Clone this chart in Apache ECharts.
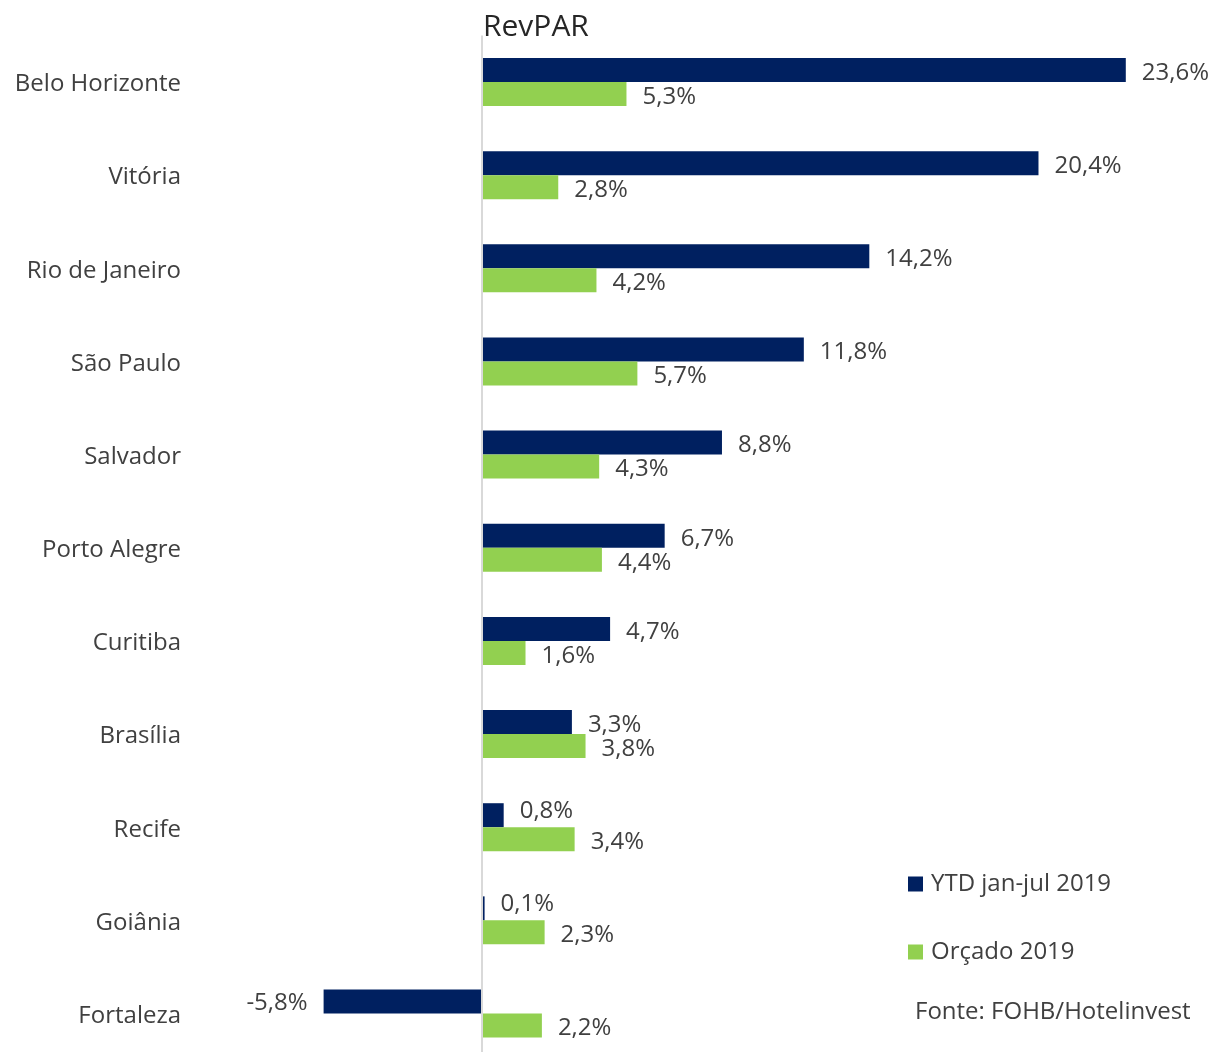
<!DOCTYPE html>
<html>
<head>
<meta charset="utf-8">
<script src="https://cdn.jsdelivr.net/npm/echarts@6/dist/echarts.min.js"></script>
<style>
  html, body { margin: 0; padding: 0; background: #fff; }
  #chart { width: 1214px; height: 1052px; }
</style>
</head>
<body>
<div id="chart"></div>
<script>
const cities = ['Belo Horizonte', 'Vitória', 'Rio de Janeiro', 'São Paulo', 'Salvador',
  'Porto Alegre', 'Curitiba', 'Brasília', 'Recife', 'Goiânia', 'Fortaleza']
const ytd = [23.6, 20.4, 14.2, 11.8, 8.8, 6.7, 4.7, 3.3, 0.8, 0.1, -5.8]
const orcado = [5.3, 2.8, 4.2, 5.7, 4.3, 4.4, 1.6, 3.8, 3.4, 2.3, 2.2]
const seriesNames = ['YTD jan-jul 2019', 'Orçado 2019']

const font = "'Open Sans', sans-serif"
const textColor = '#404040'

const fmt = (v) => v.toFixed(1).replace('.', ',') + '%'

const chart = echarts.init(document.getElementById('chart'))

const valueLabel = {
  show: true,
  position: 'right',
  distance: 16,
  offset: [0, 3],
  fontFamily: font,
  fontSize: 24,
  color: textColor,
  formatter: (p) => fmt(p.value)
}

// small bars: label nudged up so it clears the green bar below
const ytdLabel = (v) => {
  if (v < 0) return { position: 'left', offset: [0, 2] }
  if (v < 1) return { offset: [0, -4] }
  return undefined
}

chart.setOption({
  animation: false,
  title: {
    text: 'RevPAR',
    left: 478,
    top: 7,
    textStyle: { fontFamily: font, fontSize: 30, fontWeight: 'normal', color: '#262626' }
  },
  legend: {
    orient: 'vertical',
    left: 903,
    top: 867,
    itemGap: 44,
    itemWidth: 15,
    itemHeight: 15,
    icon: 'rect',
    data: seriesNames,
    textStyle: { fontFamily: font, fontSize: 24, color: textColor, padding: [0, 0, 0, 3] }
  },
  graphic: [{
    type: 'text',
    left: 915,
    top: 1000,
    style: { text: 'Fonte: FOHB/Hotelinvest', font: '24px ' + font, fill: textColor }
  }],
  grid: { left: 209, top: 35.4, width: 955, height: 1024.7, outerBoundsMode: 'none' },
  xAxis: {
    type: 'value',
    min: -10,
    max: 25,
    show: false
  },
  yAxis: {
    type: 'category',
    data: cities,
    inverse: true,
    axisLine: { show: false, onZero: false },
    axisTick: { show: false },
    axisLabel: {
      margin: 28, color: textColor,
      formatter: (v) => '{c|' + v + '}',
      rich: { c: { fontFamily: font, fontSize: 24, color: textColor, padding: [5, 0, 0, 0] } }
    }
  },
  series: [
    {
      name: seriesNames[0],
      type: 'bar',
      data: ytd.map(v => ({ value: v, label: ytdLabel(v) })),
      barWidth: 24,
      barGap: '0%',
      itemStyle: { color: '#002060' },
      label: valueLabel,
      markLine: {
        silent: true,
        symbol: 'none',
        label: { show: false },
        lineStyle: { color: '#d9d9d9', width: 2, type: 'solid' },
        data: [{ xAxis: 0 }]
      }
    },
    {
      name: seriesNames[1],
      type: 'bar',
      data: orcado,
      barWidth: 24,
      barGap: '0%',
      itemStyle: { color: '#92d050' },
      label: valueLabel
    }
  ]
})
</script>
</body>
</html>
